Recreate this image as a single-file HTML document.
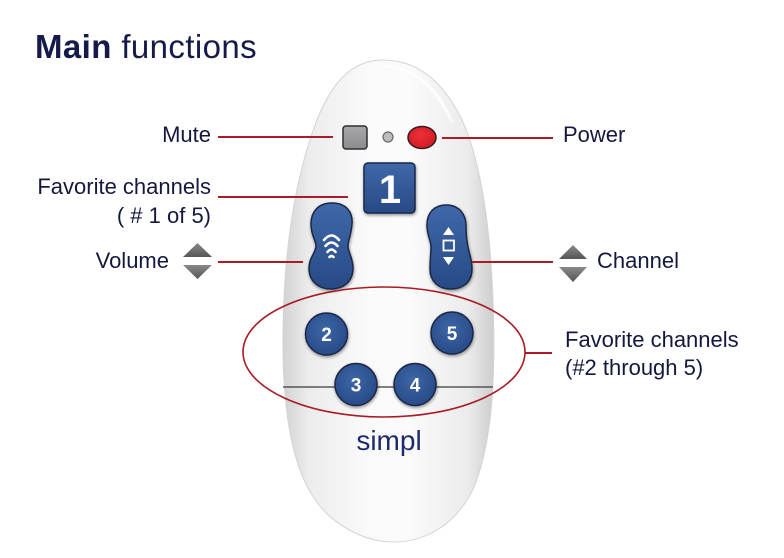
<!DOCTYPE html>
<html>
<head>
<meta charset="utf-8">
<style>
  html, body { margin: 0; padding: 0; background: #ffffff; }
  body { width: 784px; height: 558px; overflow: hidden; }
  svg { display: block; }
  text { font-family: "Liberation Sans", Arial, sans-serif; }
</style>
</head>
<body>
<svg width="784" height="558" viewBox="0 0 784 558" xmlns="http://www.w3.org/2000/svg">
  <defs>
    <linearGradient id="bodyG" x1="0" y1="0" x2="1" y2="0">
      <stop offset="0" stop-color="#d2d2d2"/>
      <stop offset="0.12" stop-color="#ececec"/>
      <stop offset="0.4" stop-color="#fafafa"/>
      <stop offset="0.6" stop-color="#fbfbfb"/>
      <stop offset="0.88" stop-color="#ebebeb"/>
      <stop offset="1" stop-color="#cdcdcd"/>
    </linearGradient>
    <linearGradient id="blueG" x1="0" y1="0" x2="0" y2="1">
      <stop offset="0" stop-color="#3f68a8"/>
      <stop offset="1" stop-color="#274a86"/>
    </linearGradient>
    <radialGradient id="btnG" cx="0.45" cy="0.4" r="0.6">
      <stop offset="0" stop-color="#3d66a6"/>
      <stop offset="1" stop-color="#284b88"/>
    </radialGradient>
    <linearGradient id="grayBtn" x1="0" y1="0" x2="0" y2="1">
      <stop offset="0" stop-color="#a8a8ac"/>
      <stop offset="1" stop-color="#8c8c90"/>
    </linearGradient>
    <radialGradient id="redG" cx="0.45" cy="0.4" r="0.6">
      <stop offset="0" stop-color="#ee3038"/>
      <stop offset="1" stop-color="#d01c24"/>
    </radialGradient>
    <linearGradient id="triG" x1="0" y1="0" x2="0" y2="1">
      <stop offset="0" stop-color="#8a8a8a"/>
      <stop offset="1" stop-color="#555555"/>
    </linearGradient>
    <filter id="sh" x="-30%" y="-30%" width="160%" height="160%">
      <feGaussianBlur in="SourceAlpha" stdDeviation="1.6"/>
      <feOffset dx="0.5" dy="1.5" result="b"/>
      <feComponentTransfer><feFuncA type="linear" slope="0.45"/></feComponentTransfer>
      <feMerge><feMergeNode/><feMergeNode in="SourceGraphic"/></feMerge>
    </filter>
  </defs>

  <!-- Title -->
  <text x="35" y="58" font-size="33" fill="#161a4a" letter-spacing="0.4"><tspan font-weight="bold">Main</tspan> functions</text>

  <!-- Remote body -->
  <path d="M 383 60
           C 420 60, 445 85, 462 120
           C 480 160, 490 220, 493 300
           C 496 380, 492 440, 475 485
           C 455 530, 420 542, 393 542
           C 365 542, 330 525, 312 495
           C 290 460, 282 400, 283 330
           C 284 250, 295 180, 315 125
           C 330 85, 350 60, 383 60 Z"
        fill="url(#bodyG)" stroke="#d4d4d4" stroke-width="1"/>
  <!-- inner highlight -->
  <path d="M 383 66 C 415 66, 438 90, 452 122" fill="none" stroke="#ffffff" stroke-width="3" opacity="0.8"/>

  <!-- Separation line -->
  <line x1="283" y1="387" x2="493" y2="387" stroke="#3a3a3a" stroke-width="1.2"/>

  <!-- Mute button -->
  <rect x="343" y="126" width="24" height="23" rx="3" fill="url(#grayBtn)" stroke="#2e2e32" stroke-width="1.5"/>
  <!-- LED -->
  <circle cx="388" cy="137" r="5" fill="#bdbdbd" stroke="#6a6a6a" stroke-width="1.2"/>
  <!-- Power -->
  <ellipse cx="422" cy="137.5" rx="14" ry="11" fill="url(#redG)" stroke="#3a1a1a" stroke-width="1.5"/>

  <!-- Fav 1 button -->
  <g filter="url(#sh)">
    <rect x="364" y="163" width="51" height="50" rx="4" fill="url(#blueG)" stroke="#1b2846" stroke-width="1.5"/>
  </g>
  <text x="390" y="203" font-size="40" font-weight="bold" fill="#ffffff" text-anchor="middle">1</text>

  <!-- Volume button -->
  <g filter="url(#sh)">
    <path d="M 332 203 C 346 203, 353 212, 352 224 C 351 236, 348 240, 348 246 C 348 252, 353 258, 353 268 C 353 281, 344 289, 331 289 C 318 289, 309 281, 309 268 C 309 258, 316 252, 316 246 C 316 240, 311 236, 311 224 C 311 212, 318 203, 332 203 Z"
          fill="url(#blueG)" stroke="#1b2846" stroke-width="1.5"/>
  </g>
  <g fill="none" stroke="#ffffff" stroke-width="2.6" stroke-linecap="round">
    <path d="M 324 240 Q 331.5 231 339 240"/>
    <path d="M 325.5 246 Q 331.5 239 337.5 246"/>
    <path d="M 327.5 252 Q 331.5 247 335.5 252"/>
    <path d="M 329.5 257 Q 331.5 255 333.5 257"/>
  </g>

  <!-- Channel button -->
  <g filter="url(#sh)">
    <path d="M 446 205 C 459 205, 466 214, 466 226 C 466 238, 467 241, 468 247 C 469 253, 472 259, 472 269 C 472 282, 463 289, 451 289 C 438 289, 430 281, 430 269 C 430 259, 431 253, 431 247 C 431 240, 427 236, 427 225 C 427 213, 434 205, 446 205 Z"
          fill="url(#blueG)" stroke="#1b2846" stroke-width="1.5"/>
  </g>
  <polygon points="443,235 454,235 448.5,227" fill="#ffffff"/>
  <rect x="443.5" y="240.5" width="10.5" height="10" fill="none" stroke="#ffffff" stroke-width="1.8"/>
  <polygon points="443,257 454,257 448.5,265" fill="#ffffff"/>

  <!-- Number buttons -->
  <g filter="url(#sh)">
    <circle cx="326.5" cy="334" r="21" fill="url(#btnG)" stroke="#1b2846" stroke-width="1.5"/>
    <circle cx="452" cy="333" r="21" fill="url(#btnG)" stroke="#1b2846" stroke-width="1.5"/>
    <circle cx="356" cy="384.5" r="21" fill="url(#btnG)" stroke="#1b2846" stroke-width="1.5"/>
    <circle cx="415" cy="384.5" r="21" fill="url(#btnG)" stroke="#1b2846" stroke-width="1.5"/>
  </g>
  <g font-size="19" font-weight="bold" fill="#ffffff" text-anchor="middle">
    <text x="326.5" y="341">2</text>
    <text x="452" y="340">5</text>
    <text x="356" y="391.5">3</text>
    <text x="415" y="391.5">4</text>
  </g>

  <!-- simpl logo -->
  <text x="389" y="450" font-size="28" fill="#1d2a6e" text-anchor="middle">simpl</text>

  <!-- Red ellipse -->
  <ellipse cx="384" cy="352" rx="141" ry="65" fill="none" stroke="#a91c25" stroke-width="1.6"/>

  <!-- Connector lines -->
  <g stroke="#a91c25" stroke-width="2" fill="none">
    <line x1="218" y1="137" x2="333" y2="137"/>
    <line x1="442" y1="138" x2="553" y2="138"/>
    <line x1="218" y1="197" x2="348" y2="197"/>
    <line x1="218" y1="262" x2="303" y2="262"/>
    <line x1="472" y1="262" x2="553" y2="262"/>
    <line x1="525" y1="353" x2="552" y2="353"/>
  </g>

  <!-- Triangles: volume -->
  <polygon points="183,257 212,257 197.5,243" fill="url(#triG)"/>
  <polygon points="183,265 212,265 197.5,279" fill="url(#triG)"/>
  <!-- Triangles: channel -->
  <polygon points="559,259 587,259 573,245" fill="url(#triG)"/>
  <polygon points="559,267 587,267 573,282" fill="url(#triG)"/>

  <!-- Labels -->
  <g font-size="22" fill="#14183f">
    <text x="211" y="142" text-anchor="end">Mute</text>
    <text x="211" y="194" text-anchor="end">Favorite channels</text>
    <text x="211" y="223" text-anchor="end">( # 1 of 5)</text>
    <text x="169" y="268" text-anchor="end">Volume</text>
    <text x="563" y="142">Power</text>
    <text x="597" y="268">Channel</text>
    <text x="565" y="347">Favorite channels</text>
    <text x="565" y="375">(#2 through 5)</text>
  </g>
</svg>
</body>
</html>
